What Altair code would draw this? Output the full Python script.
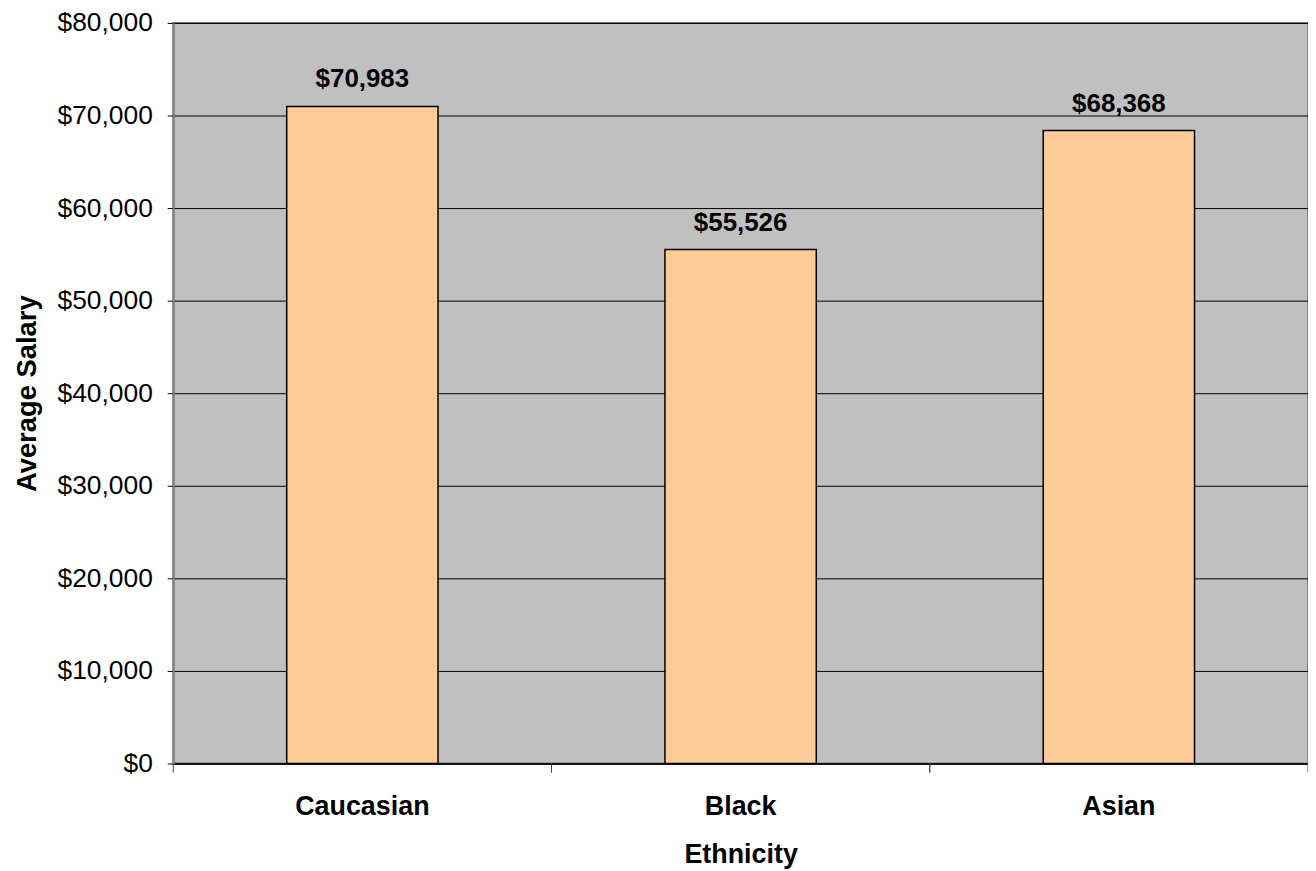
import altair as alt
import pandas as pd

categories = ["Caucasian", "Black", "Asian"]
salaries = [70983, 55526, 68368]
labels = ["$70,983", "$55,526", "$68,368"]

df = pd.DataFrame({"Ethnicity": categories, "Salary": salaries, "Label": labels})

FONT = "Liberation Sans"

x = alt.X(
    "Ethnicity:N",
    sort=categories,
    scale=alt.Scale(paddingInner=0.6, paddingOuter=0.3),
    axis=alt.Axis(
        title="Ethnicity",
        labelAngle=0,
        labelFont=FONT,
        labelFontSize=27,
        labelFontWeight="bold",
        labelColor="black",
        labelPadding=30,
        titleFont=FONT,
        titleFontSize=27,
        titleFontWeight="bold",
        titleColor="black",
        titlePadding=22,
        ticks=False,
        domainColor="black",
        domainWidth=1.5,
        grid=False,
    ),
)

y = alt.Y(
    "Salary:Q",
    scale=alt.Scale(domain=[0, 80000]),
    axis=alt.Axis(
        title="Average Salary",
        values=list(range(0, 80001, 10000)),
        labelExpr="'$' + format(datum.value, ',')",
        labelFont=FONT,
        labelFontSize=26.5,
        labelColor="black",
        labelPadding=15,
        titleFont=FONT,
        titleFontSize=27.5,
        titleFontWeight="bold",
        titleColor="black",
        titlePadding=16,
        tickSize=6,
        tickColor="black",
        domainColor="#808080",
        domainWidth=2,
        grid=True,
        gridColor="black",
        gridWidth=1,
    ),
)

bars = alt.Chart(df).mark_bar(
    color="#FFCC99", stroke="black", strokeWidth=1.5
).encode(x=x, y=y)

text = alt.Chart(df).mark_text(
    baseline="bottom", dy=-14, font=FONT, fontSize=26, fontWeight="bold", color="black"
).encode(x=alt.X("Ethnicity:N", sort=categories), y="Salary:Q", text="Label:N")

band_scale = alt.Scale(paddingInner=0, paddingOuter=0)

ticks_left = alt.Chart(df).mark_rule(color="#404040", strokeWidth=1).encode(
    x=alt.X("Ethnicity:N", sort=categories, scale=band_scale, bandPosition=0, axis=None),
    y=alt.value(744),
    y2=alt.value(753),
)
ticks_right = alt.Chart(df).mark_rule(color="#404040", strokeWidth=1).encode(
    x=alt.X("Ethnicity:N", sort=categories, scale=band_scale, bandPosition=1, axis=None),
    y=alt.value(744),
    y2=alt.value(753),
)

tick_layer = alt.layer(ticks_left, ticks_right)

chart = (
    alt.layer(alt.layer(bars, text), tick_layer)
    .resolve_scale(x="independent")
    .properties(
        width=1140,
        height=744,
        padding={"left": 166, "top": 13, "right": 0, "bottom": 104},
        autosize=alt.AutoSizeParams(type="none"),
        background="white",
    )
    .configure_view(fill="#C0C0C0", stroke="#808080", strokeWidth=2)
)

chart.save("out.html", embed_options={"renderer": "svg", "actions": False})
